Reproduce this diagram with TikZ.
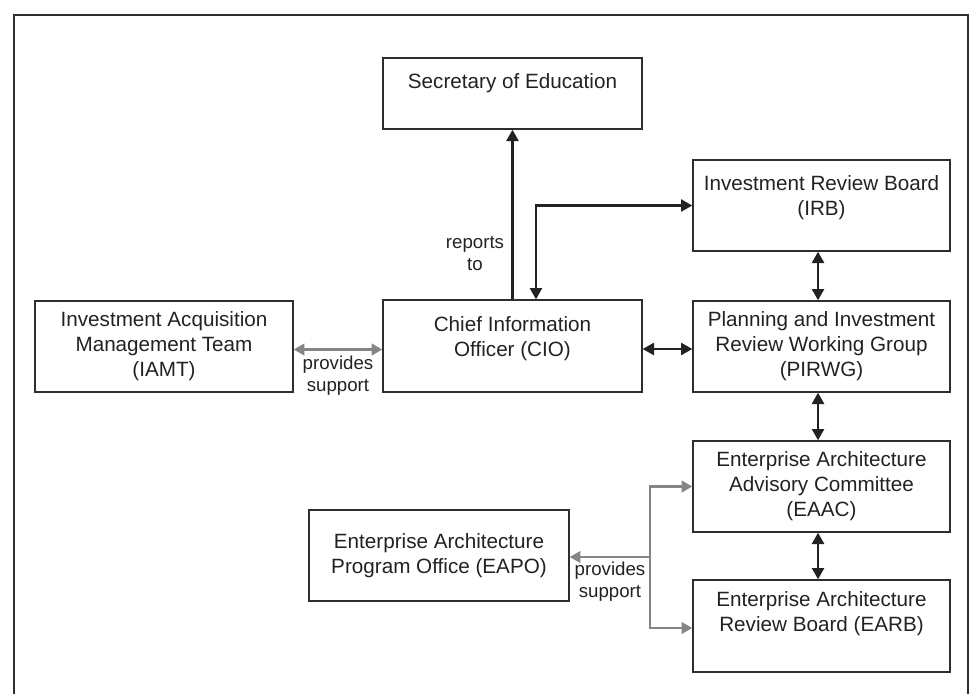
\documentclass[tikz,border=0pt]{standalone}
\usepackage{fontspec}
\setmainfont{Liberation Sans}
\usetikzlibrary{arrows.meta}
\definecolor{ink}{HTML}{222222}
\definecolor{boxline}{HTML}{2E2E2E}
\definecolor{support}{HTML}{858585}
\begin{document}
\begin{tikzpicture}[x=0.75pt,y=-0.75pt,
  every node/.style={font=\fontsize{15.5}{18.75}\selectfont,text=ink},
  box/.style={draw=boxline,line width=1pt,rectangle,inner sep=0pt,align=center},
  txt/.style={inner sep=0pt,align=center},
  btip/.tip={Triangle[length=8.5pt,width=9pt]},
  gtip/.tip={Triangle[length=8pt,width=8.5pt]},
  blk/.style={draw=ink,line width=1.9pt,btip-btip},
  blkone/.style={draw=ink,line width=1.9pt,-btip},
  gry/.style={draw=support,line width=2.2pt,-gtip},
  grytwo/.style={draw=support,line width=2.2pt,gtip-gtip},
  lbl/.style={inner sep=0pt,align=center,text=ink,font=\fontsize{14}{16.5}\selectfont}]
\useasboundingbox (0,0) rectangle (976,694);
% outer frame (open at bottom)
\draw[draw=boxline,line width=1pt] (14,694) -- (14,15) -- (968,15) -- (968,694);

% boxes
\node[box,minimum width=194.25pt,minimum height=53.25pt] (sec) at (512.5,93.5) {};
\node[txt] (sectxt) at (512.5,83) {Secretary of Education};

\node[box,minimum width=192.75pt,minimum height=68.25pt] (irb) at (821.5,205.5) {};
\node[txt] (irbtxt) at (821.5,198) {Investment Review Board\\(IRB)};

\node[box,minimum width=193.5pt,minimum height=68.25pt] (iamt) at (164,346.5)
  {Investment Acquisition\\Management Team\\(IAMT)};

\node[box,minimum width=194.25pt,minimum height=69pt] (cio) at (512.5,346) {};
\node[txt] (ciotxt) at (512.5,339) {Chief Information\\Officer (CIO)};

\node[box,minimum width=192.75pt,minimum height=68.25pt] (pirwg) at (821.5,346.5)
  {Planning and Investment\\Review Working Group\\(PIRWG)};

\node[box,minimum width=192.75pt,minimum height=68.25pt] (eaac) at (821.5,486.5)
  {Enterprise Architecture\\Advisory Committee\\(EAAC)};

\node[box,minimum width=195pt,minimum height=68.25pt] (eapo) at (439,555.5)
  {Enterprise Architecture\\Program Office (EAPO)};

\node[box,minimum width=192.75pt,minimum height=69pt] (earb) at (821.5,626) {};
\node[txt] (earbtxt) at (821.5,614) {Enterprise Architecture\\Review Board (EARB)};

% black connectors
\draw[blkone] (cio.north) -- (sec.south);
\draw[blk] ([xshift=17.6pt]cio.north) |- (irb.west);
\draw[blk] ([yshift=-2.25pt]cio.east) -- ([yshift=-2.25pt]cio.east -| pirwg.west);
\draw[blk] ([xshift=-2.6pt]irb.south) -- ([xshift=-2.6pt]pirwg.north);
\draw[blk] ([xshift=-2.6pt]pirwg.south) -- ([xshift=-2.6pt]eaac.north);
\draw[blk] ([xshift=-2.6pt]eaac.south) -- ([xshift=-2.6pt]earb.north);

% grey support connectors
\draw[grytwo] ([yshift=-2.25pt]iamt.east) -- ([yshift=-2.25pt]iamt.east -| cio.west);
\coordinate (br) at (650,557);
\draw[gry] (br) -- (br -| eapo.east);
\draw[gry] (br) |- (eaac.west);
\draw[gry] (br) |- ([yshift=-1.5pt]earb.west);

% labels
\node[lbl] (reports) at (475,254) {reports\\to};
\node[lbl] (sup1) at (338,376) {provides\\support};
\node[lbl] (sup2) at (610,582) {provides\\support};
\end{tikzpicture}
\end{document}
